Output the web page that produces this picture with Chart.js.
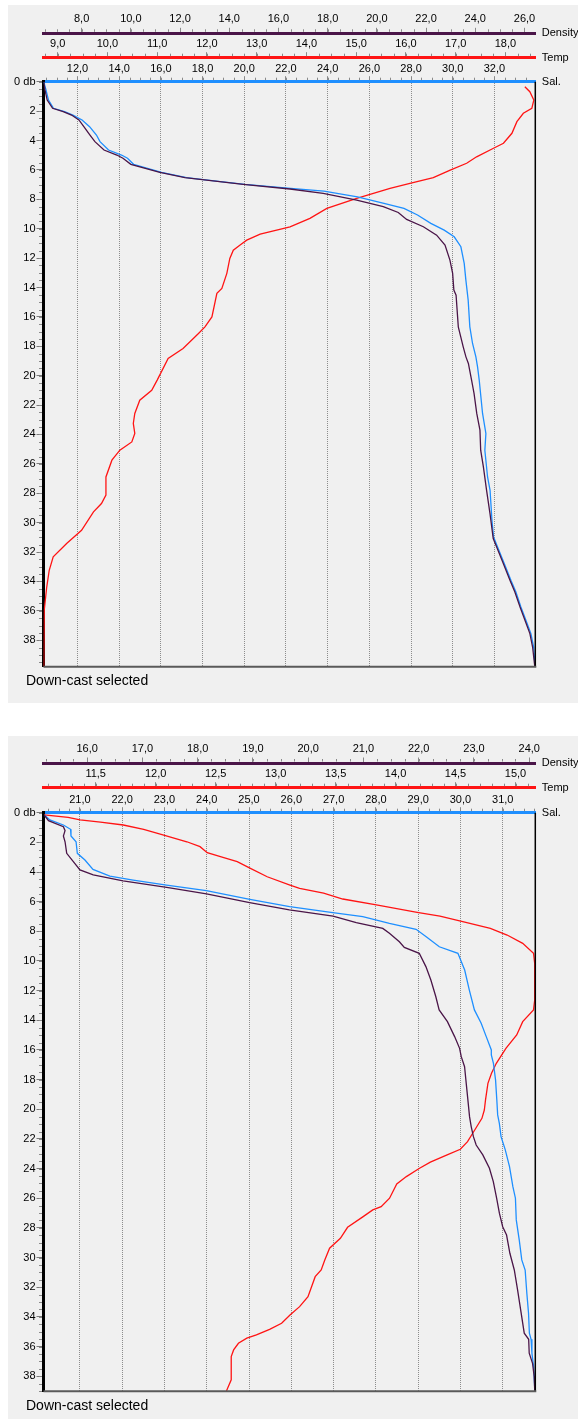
<!DOCTYPE html>
<html>
<head>
<meta charset="utf-8">
<title>CTD profiles</title>
<script src="https://cdn.jsdelivr.net/npm/chart.js@4.4.1/dist/chart.umd.min.js"></script>
<style>
  body { margin: 0; background: #fff; width: 578px; height: 1419px; overflow: hidden; font-family: 'Liberation Sans', Arial, sans-serif; }
  .panel { position: absolute; left: 8px; width: 570px; background: #f0f0f0; }
  #p1 { top: 5px; height: 698px; }
  #p2 { top: 736px; height: 683px; }
  .panel canvas { position: absolute; left: 0; top: 0; }
  .note { position: absolute; left: 18px; font-size: 14px; line-height: 16px; color: #000; }
</style>
</head>
<body>
<div class="panel" id="p1">
  <canvas id="c1" width="570" height="698"></canvas>
  <div class="note" style="top:667px">Down-cast selected</div>
</div>
<div class="panel" id="p2">
  <canvas id="c2" width="570" height="683"></canvas>
  <div class="note" style="top:661px">Down-cast selected</div>
</div>
<script>
// ---- panel 1 data (depth in db) ----
const sal1Depth = [0, 0.56, 1.25, 1.81, 2.04, 2.27, 2.6, 3.06, 3.63, 4.08, 4.65, 4.99, 5.21, 5.62, 6.17, 6.53, 6.69, 6.98, 7.26, 7.44, 7.83, 8.28, 8.62, 9.07, 9.64, 10.1, 10.55, 11.23, 12.36, 13.5, 14.86, 16.68, 17.81, 18.72, 19.4, 20.3, 22.57, 23.93, 25.07, 26.89, 27.8, 29.84, 30.97, 31.65, 32.78, 33.92, 34.72, 35.74, 36.64, 37.55, 38.46, 39.8];
const sal1 = [10.38, 10.49, 10.61, 10.85, 11.38, 11.78, 12.22, 12.58, 12.91, 13.08, 13.49, 14.11, 14.4, 14.69, 16.03, 17.23, 18.24, 20.02, 22.23, 23.82, 25.43, 26.7, 27.66, 28.31, 28.95, 29.59, 30.07, 30.39, 30.55, 30.63, 30.74, 30.82, 30.95, 31.11, 31.19, 31.27, 31.43, 31.59, 31.54, 31.67, 31.79, 31.88, 31.96, 32.15, 32.47, 32.79, 33.03, 33.27, 33.51, 33.75, 33.88, 33.95];
const dens1Depth = [0, 0.56, 1.25, 1.81, 2.04, 2.27, 2.6, 3.06, 3.63, 4.08, 4.65, 4.99, 5.21, 5.62, 6.17, 6.53, 6.69, 6.98, 7.3, 7.6, 8.05, 8.5, 8.9, 9.37, 9.87, 10.44, 11.12, 12.14, 13.04, 14.18, 14.52, 16.68, 17.36, 18.04, 18.72, 19.17, 20.3, 21.2, 22.57, 23.7, 25.07, 26.2, 27.8, 29.4, 31.08, 31.65, 32.78, 33.92, 34.72, 35.74, 36.64, 37.55, 38.46, 39.8];
const dens1 = [6.46, 6.51, 6.6, 6.82, 7.25, 7.59, 7.89, 8.09, 8.34, 8.54, 8.91, 9.43, 9.68, 10.0, 11.18, 12.2, 13.08, 14.57, 16.47, 17.82, 19.18, 20.26, 20.87, 21.21, 21.89, 22.43, 22.77, 22.97, 23.08, 23.13, 23.22, 23.31, 23.41, 23.51, 23.62, 23.72, 23.85, 23.95, 24.06, 24.19, 24.22, 24.33, 24.46, 24.6, 24.73, 24.87, 25.14, 25.41, 25.61, 25.82, 26.02, 26.22, 26.33, 26.42];
const temp1Depth = [0.34, 0.68, 1.25, 1.81, 2.15, 2.72, 3.51, 4.19, 4.53, 5.11, 5.55, 6.01, 6.53, 6.92, 7.26, 7.94, 8.62, 9.3, 9.87, 10.37, 10.78, 11.12, 11.46, 12.02, 13.04, 14.06, 14.4, 16.0, 16.68, 17.13, 18.15, 18.83, 20.3, 20.99, 21.67, 22.57, 23.25, 23.93, 24.51, 25.07, 25.75, 26.89, 28.13, 28.7, 29.27, 30.52, 31.42, 32.33, 33.24, 34.38, 35.96, 39.8];
const temp1 = [18.39, 18.49, 18.57, 18.53, 18.36, 18.23, 18.13, 17.96, 17.76, 17.42, 17.22, 16.89, 16.55, 16.08, 15.68, 15.01, 14.41, 14.07, 13.67, 13.07, 12.8, 12.66, 12.53, 12.46, 12.4, 12.3, 12.2, 12.1, 11.96, 11.83, 11.52, 11.22, 11.0, 10.89, 10.65, 10.55, 10.52, 10.55, 10.49, 10.25, 10.09, 9.97, 9.97, 9.88, 9.72, 9.48, 9.18, 8.91, 8.83, 8.78, 8.73, 8.72];

// ---- panel 2 data ----
const sal2Depth = [0.15, 0.49, 0.83, 1.12, 1.57, 1.96, 2.74, 3.19, 3.82, 4.27, 4.54, 4.88, 5.26, 5.84, 6.34, 6.74, 7.01, 7.46, 7.86, 8.36, 9.04, 9.48, 10.61, 11.96, 13.3, 14.2, 15.1, 16.0, 16.34, 16.9, 18.02, 19.37, 20.38, 20.95, 21.85, 22.74, 23.87, 25.22, 26.0, 27.46, 28.81, 30.16, 30.84, 32.41, 33.76, 35.1, 35.51, 36.45, 37.36, 39.0];
const sal2 = [20.16, 20.29, 20.61, 20.78, 20.79, 20.91, 20.94, 21.12, 21.31, 21.71, 22.26, 23.05, 23.99, 25.02, 25.96, 26.98, 27.69, 28.32, 28.95, 29.19, 29.5, 29.94, 30.1, 30.21, 30.33, 30.49, 30.61, 30.73, 30.73, 30.78, 30.83, 30.86, 30.88, 30.92, 30.96, 31.06, 31.16, 31.24, 31.3, 31.32, 31.39, 31.45, 31.53, 31.57, 31.61, 31.63, 31.67, 31.69, 31.73, 31.76];
const dens2Depth = [0.15, 0.54, 0.94, 1.21, 1.57, 1.96, 2.74, 3.3, 3.86, 4.2, 4.6, 5.03, 5.48, 6.07, 6.56, 6.97, 7.42, 7.8, 8.13, 8.7, 9.08, 9.48, 10.38, 11.28, 12.41, 13.3, 14.09, 15.1, 15.89, 16.45, 17.13, 18.25, 19.37, 20.5, 21.17, 21.85, 22.41, 23.08, 23.98, 24.88, 26.0, 27.01, 27.92, 28.48, 29.71, 30.84, 32.19, 33.65, 35.1, 35.51, 36.45, 37.13, 38.03, 39.0];
const dens2 = [15.22, 15.3, 15.57, 15.6, 15.57, 15.6, 15.63, 15.75, 15.87, 16.11, 16.65, 17.44, 18.16, 18.94, 19.66, 20.45, 20.87, 21.35, 21.47, 21.65, 21.74, 22.01, 22.13, 22.22, 22.31, 22.37, 22.52, 22.65, 22.74, 22.77, 22.83, 22.86, 22.89, 22.92, 22.95, 22.99, 23.04, 23.16, 23.28, 23.35, 23.41, 23.46, 23.52, 23.59, 23.65, 23.73, 23.79, 23.85, 23.91, 23.99, 24.0, 24.06, 24.09, 24.1];
const temp2Depth = [0.15, 0.31, 0.49, 0.63, 0.83, 1.12, 1.5, 1.96, 2.29, 2.7, 2.97, 3.3, 3.75, 4.32, 4.88, 5.1, 5.43, 5.82, 6.22, 6.72, 6.97, 7.35, 7.8, 8.25, 8.81, 9.48, 10.16, 12.63, 13.3, 14.09, 14.99, 15.89, 16.9, 17.57, 18.25, 19.37, 20.05, 20.61, 21.4, 22.18, 22.7, 23.08, 23.57, 23.98, 24.54, 25.04, 26.0, 26.57, 26.79, 27.24, 27.96, 28.7, 29.37, 30.16, 30.84, 31.29, 32.64, 33.31, 33.87, 34.43, 34.84, 35.22, 35.44, 35.78, 36.23, 36.68, 38.25, 39.0];
const temp2 = [11.07, 11.27, 11.37, 11.54, 11.73, 11.9, 12.06, 12.26, 12.37, 12.43, 12.54, 12.68, 12.79, 12.93, 13.12, 13.2, 13.4, 13.56, 13.84, 14.18, 14.37, 14.56, 14.79, 14.93, 15.06, 15.15, 15.16, 15.16, 15.15, 15.06, 15.01, 14.92, 14.84, 14.8, 14.77, 14.75, 14.74, 14.72, 14.66, 14.6, 14.54, 14.43, 14.29, 14.2, 14.09, 14.01, 13.95, 13.88, 13.81, 13.73, 13.6, 13.54, 13.45, 13.41, 13.38, 13.33, 13.27, 13.2, 13.12, 13.05, 12.95, 12.84, 12.76, 12.69, 12.65, 12.63, 12.63, 12.59];

// ---- tick labels ----
const depthTicks = [0, 2, 4, 6, 8, 10, 12, 14, 16, 18, 20, 22, 24, 26, 28, 30, 32, 34, 36, 38];
const dens1Ticks = [8, 10, 12, 14, 16, 18, 20, 22, 24, 26];
const temp1Ticks = [9, 10, 11, 12, 13, 14, 15, 16, 17, 18];
const sal1Ticks = [12, 14, 16, 18, 20, 22, 24, 26, 28, 30, 32];
const dens2Ticks = [16, 17, 18, 19, 20, 21, 22, 23, 24];
const temp2Ticks = [11.5, 12, 12.5, 13, 13.5, 14, 14.5, 15];
const sal2Ticks = [21, 22, 23, 24, 25, 26, 27, 28, 29, 30, 31];

const COL_DENS = '#4a1548';
const COL_TEMP = '#ff1414';
const COL_SAL = '#1e8fff';

Chart.defaults.font.family = "'Liberation Sans', Arial, sans-serif";
Chart.defaults.font.size = 11;
Chart.defaults.color = '#000';

const fmt = v => v.toFixed(1).replace('.', ',');
const pts = (xs, ys) => xs.map((x, i) => ({ x: x, y: ys[i] }));

// minor ticks + axis names + right/bottom frame
function decorPlugin(minor) {
  return {
    id: 'decor',
    afterDraw(chart) {
      const ctx = chart.ctx;
      const area = chart.chartArea;
      ctx.save();
      ctx.strokeStyle = '#8a8a8a';
      ctx.lineWidth = 1;
      ctx.beginPath();
      Object.keys(minor).forEach(id => {
        const s = chart.scales[id];
        const step = minor[id];
        let v = Math.ceil(s.min / step - 1e-6) * step;
        for (; v <= s.max + 1e-6; v += step) {
          if (id === 'y') {
            const py = Math.round(s.getPixelForValue(v)) + 0.5;
            ctx.moveTo(s.right - 1.5, py);
            ctx.lineTo(s.right - 4.5, py);
          } else {
            const px = Math.round(s.getPixelForValue(v)) + 0.5;
            ctx.moveTo(px, s.bottom - 1.5);
            ctx.lineTo(px, s.bottom - 4);
          }
        }
      });
      ctx.stroke();

      // frame
      ctx.strokeStyle = '#000';
      ctx.lineWidth = 1.5;
      ctx.beginPath();
      ctx.moveTo(area.right, area.top);
      ctx.lineTo(area.right, area.bottom);
      ctx.stroke();
      ctx.strokeStyle = '#5a5a5a';
      ctx.lineWidth = 2;
      ctx.beginPath();
      ctx.moveTo(area.left, area.bottom);
      ctx.lineTo(area.right + 1, area.bottom);
      ctx.stroke();

      // axis names
      ctx.fillStyle = '#000';
      ctx.font = "11px 'Liberation Sans', Arial, sans-serif";
      ctx.textBaseline = 'middle';
      ctx.textAlign = 'left';
      [['dens', 'Density'], ['temp', 'Temp'], ['sal', 'Sal.']].forEach(([id, name]) => {
        ctx.fillText(name, area.right + 6.5, chart.scales[id].bottom);
      });
      ctx.restore();
    }
  };
}

function topAxis(range, ticks, color, weight, height, pad, grid) {
  return {
    type: 'linear',
    position: 'top',
    weight: weight,
    min: range[0],
    max: range[1],
    afterBuildTicks: s => { s.ticks = ticks.map(v => ({ value: v })); },
    afterFit: s => { s.height = height; },
    ticks: { autoSkip: false, maxRotation: 0, padding: pad, callback: v => fmt(v) },
    grid: {
      drawOnChartArea: grid,
      color: '#8c8c8c',
      lineWidth: 1,
      tickLength: 5.5,
      tickColor: '#8a8a8a',
      tickWidth: 1
    },
    border: { display: true, color: color, width: 3, dash: [1, 1] }
  };
}

function buildChart(canvasId, p) {
  return new Chart(document.getElementById(canvasId), {
    type: 'scatter',
    data: {
      datasets: [
        { label: 'Density', data: pts(p.dens, p.densDepth), xAxisID: 'dens', yAxisID: 'y', borderColor: COL_DENS },
        { label: 'Sal.', data: pts(p.sal, p.salDepth), xAxisID: 'sal', yAxisID: 'y', borderColor: COL_SAL },
        { label: 'Temp', data: pts(p.temp, p.tempDepth), xAxisID: 'temp', yAxisID: 'y', borderColor: COL_TEMP }
      ].map(d => Object.assign(d, { showLine: true, pointRadius: 0, borderWidth: 1.3, tension: 0, fill: false }))
    },
    options: {
      responsive: false,
      animation: false,
      events: [],
      layout: { padding: { left: 0, top: 0, right: 42.7, bottom: p.padBottom } },
      plugins: { legend: { display: false }, tooltip: { enabled: false } },
      scales: {
        sal: topAxis(p.salRange, p.salTicks, COL_SAL, 0, p.heights[2], 0.5, true),
        temp: topAxis(p.tempRange, p.tempTicks, COL_TEMP, 1, p.heights[1], 2, false),
        dens: topAxis(p.densRange, p.densTicks, COL_DENS, 2, p.heights[0], 2, false),
        y: {
          type: 'linear',
          position: 'left',
          reverse: true,
          min: 0,
          max: p.yMax,
          afterBuildTicks: s => { s.ticks = depthTicks.map(v => ({ value: v })); },
          afterFit: s => { s.width = 35.5; },
          ticks: { autoSkip: false, padding: 1, callback: v => (v === 0 ? '0 db' : String(v)) },
          grid: { drawOnChartArea: false, tickLength: 7, tickColor: '#7a7a7a', tickWidth: 1 },
          border: { display: true, color: '#000', width: 3 }
        }
      }
    },
    plugins: [decorPlugin(p.minor)]
  });
}

buildChart('c1', {
  densDepth: dens1Depth, dens: dens1, salDepth: sal1Depth, sal: sal1, tempDepth: temp1Depth, temp: temp1,
  densRange: [6.45, 26.44], tempRange: [8.715, 18.6], salRange: [10.37, 33.96],
  densTicks: dens1Ticks, tempTicks: temp1Ticks, salTicks: sal1Ticks,
  heights: [28.3, 24.4, 24.0],
  yMax: 39.8,
  padBottom: 36.3,
  minor: { dens: 0.5, temp: 0.25, sal: 0.5, y: 0.5 }
});

buildChart('c2', {
  densDepth: dens2Depth, dens: dens2, salDepth: sal2Depth, sal: sal2, tempDepth: temp2Depth, temp: temp2,
  densRange: [15.21, 24.11], tempRange: [11.065, 15.165], salRange: [20.14, 31.77],
  densTicks: dens2Ticks, tempTicks: temp2Ticks, salTicks: sal2Ticks,
  heights: [27.0, 24.7, 25.0],
  yMax: 39.02,
  padBottom: 27.7,
  minor: { dens: 0.25, temp: 0.1, sal: 0.25, y: 0.5 }
});
</script>
</body>
</html>
